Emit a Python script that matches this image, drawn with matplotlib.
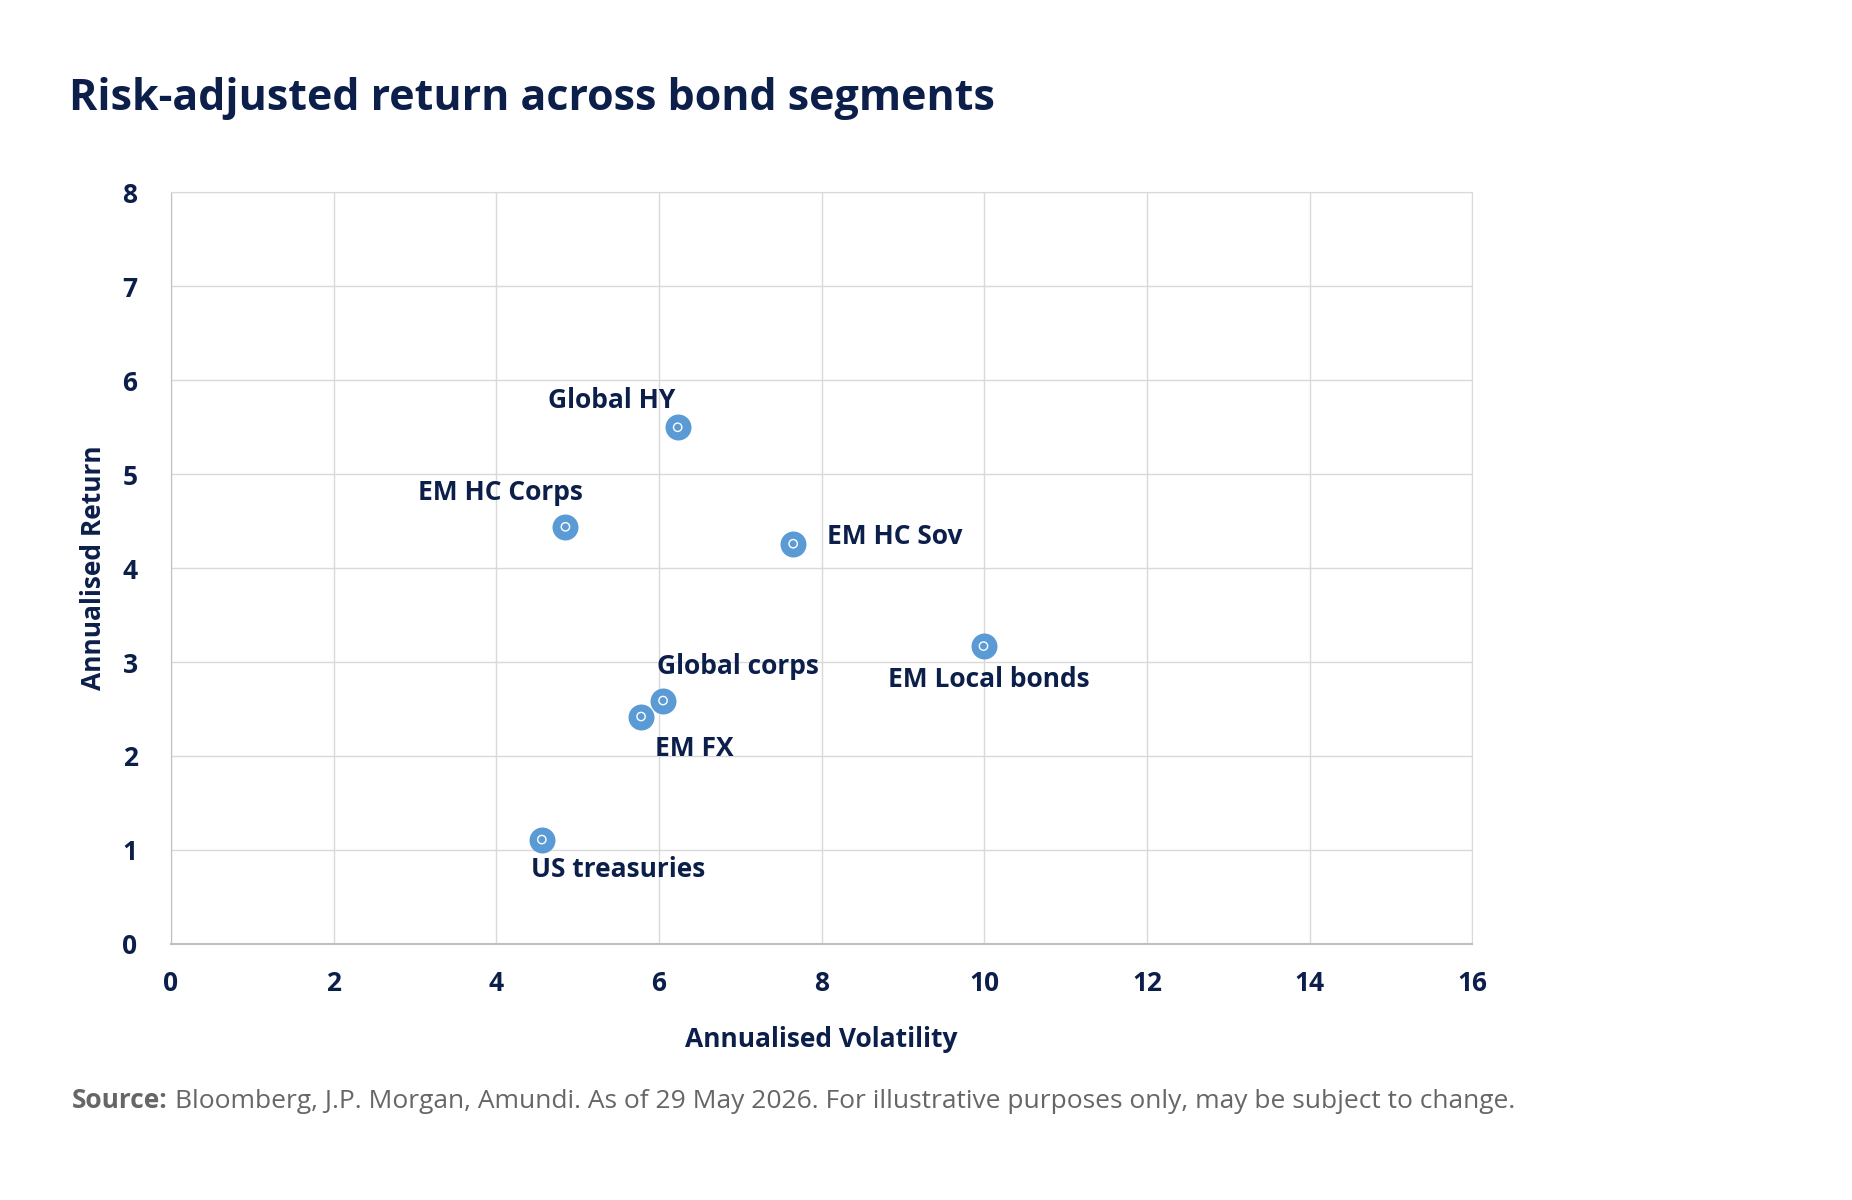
import matplotlib.pyplot as plt

plt.rcParams['font.family'] = ['Open Sans', 'DejaVu Sans']

segments = ['Global HY', 'EM HC Corps', 'EM HC Sov', 'EM Local bonds',
            'Global corps', 'EM FX', 'US treasuries']
volatility = [6.23, 4.85, 7.65, 9.99, 6.05, 5.78, 4.56]
ret = [5.50, 4.44, 4.26, 3.17, 2.59, 2.42, 1.11]

# label offsets in pixels and alignment
offsets = [(-66, 27, 'center'), (-65, 34, 'center'), (34, 7, 'left'),
           (5, -33, 'center'), (-6, 34, 'left'), (14, -32, 'left'),
           (76, -30, 'center')]

navy = '#0c1f4a'
blue = '#5b9bd5'
grid = '#d9d9d9'

fig = plt.figure(figsize=(18.52, 12), dpi=100)
ax = fig.add_axes([0.0923, 0.2135, 0.7027, 0.6261])

ax.scatter(volatility, ret, s=350, color=blue, zorder=3, linewidths=0)
ax.scatter(volatility, ret, s=36, facecolors='none', edgecolors='white',
           linewidths=1.0, zorder=4)

for name, x, y, (dx, dy, ha) in zip(segments, volatility, ret, offsets):
    ax.annotate(name, (x, y), xytext=(dx, dy), textcoords='offset pixels',
                ha=ha, va='center', fontsize=19, fontweight='bold', color=navy)

ax.set_xlim(0, 16)
ax.set_ylim(0, 8)
ax.set_xticks(range(0, 17, 2))
ax.set_yticks(range(0, 9))
ax.grid(True, color=grid, linewidth=1)
ax.set_axisbelow(True)
for s in ax.spines.values():
    s.set_color(grid)
ax.spines['bottom'].set_color('#bfbfbf')
ax.spines['left'].set_color('#bfbfbf')
ax.spines['bottom'].set_linewidth(1.5)
ax.tick_params(length=0, labelsize=19, labelcolor=navy)
for lbl in ax.get_xticklabels() + ax.get_yticklabels():
    lbl.set_fontweight('bold')
ax.tick_params(axis='x', pad=19)
ax.tick_params(axis='y', pad=24)

ax.set_xlabel('Annualised Volatility', fontsize=19, fontweight='bold',
              color=navy, labelpad=21)
ax.set_ylabel('Annualised Return', fontsize=19, fontweight='bold',
              color=navy, labelpad=11)

fig.text(0.037, 0.918, 'Risk-adjusted return across bond segments',
         fontsize=31, fontweight='bold', color=navy, va='center')

src = fig.text(0.039, 0.0825, 'Source:', fontsize=19, fontweight='bold',
               color='#666666', va='center')
fig.canvas.draw()
bb = src.get_window_extent(fig.canvas.get_renderer())
fig.text(bb.x1 / fig.bbox.width + 0.004, 0.0825,
         'Bloomberg, J.P. Morgan, Amundi. As of 29 May 2026. '
         'For illustrative purposes only, may be subject to change.',
         fontsize=19, color='#666666', va='center')

fig.savefig('out.png', dpi=100, facecolor='white')
